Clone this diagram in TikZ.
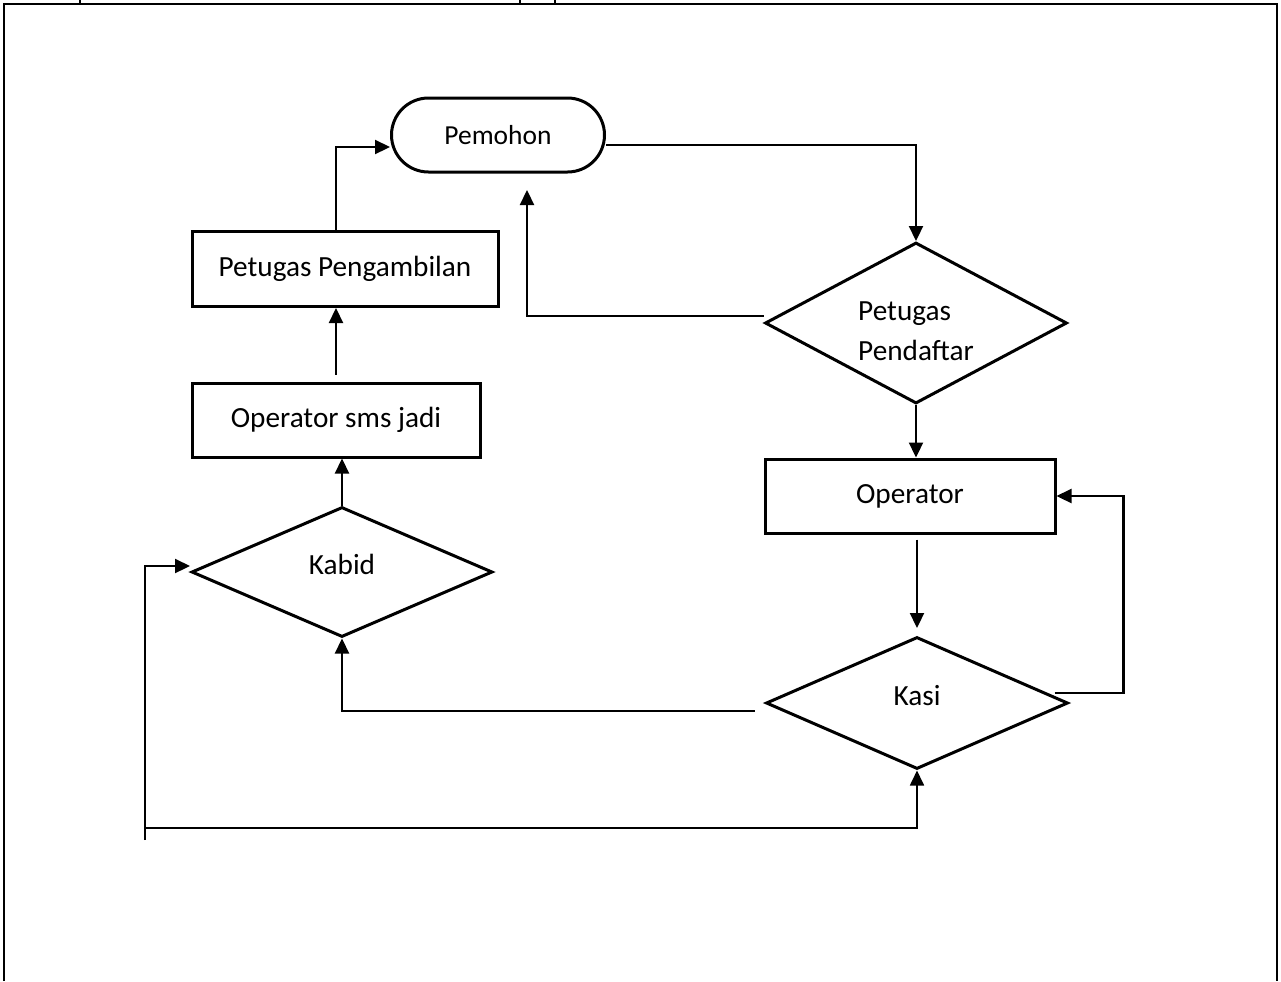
\documentclass[tikz,border=0pt]{standalone}
\usepackage{fontspec}
\setmainfont{Carlito}
\usetikzlibrary{shapes.geometric, arrows.meta}

\begin{document}
\begin{tikzpicture}[x=0.4pt, y=-0.4pt,
	box/.style={draw, line width=1.2pt, rectangle, inner sep=0pt, font=\fontsize{11.7}{16}\selectfont},
	raute/.style={draw, line width=1.2pt, diamond, aspect=1.9, inner sep=0pt, font=\fontsize{11.7}{16}\selectfont, align=left},
	pfeil/.style={line width=0.9pt, -{Triangle[length=6pt, width=5.6pt]}}]

	\def\u{0.4pt}

	\useasboundingbox (0,0) rectangle (1281,981);

	%Rahmen
	\draw [line width=1.1pt] (4,981) -- (4,4) -- (1277,4) -- (1277,981);
	\foreach \x in {80, 520, 555}
	{
		\draw [line width=0.9pt] (\x,0) -- (\x,4);
	}

	%Knoten
	\node [box, rounded corners=14.8pt, minimum width=213*\u, minimum height=74*\u, font=\fontsize{11}{13}\selectfont] (pemohon) at (498,135) {Pemohon};
	\node [raute, minimum width=302*\u, minimum height=161*\u, text height=30pt] (pendaftar) at (916,323) {Petugas\\Pendaftar};
	\node [box, minimum width=290*\u, minimum height=74*\u] (operator) at (910,496) {Operator};
	\node [raute, minimum width=302*\u, minimum height=132*\u, text depth=6.4pt] (kasi) at (917,703) {Kasi};
	\node [raute, minimum width=301*\u, minimum height=130*\u, text depth=6.4pt] (kabid) at (342,572) {Kabid};
	\node [box, minimum width=288*\u, minimum height=74*\u] (smsjadi) at (336,420) {Operator sms jadi};
	\node [box, minimum width=306*\u, minimum height=75*\u] (pengambilan) at (345,269) {Petugas Pengambilan};

	%Pfeile
	\coordinate (zurueck) at (527,190);
	\coordinate (schleife) at (145,840);

	\draw [pfeil] (smsjadi.north |- pengambilan.north) |- ([yshift=-4.8pt]pemohon.west);
	\draw [pfeil] ([yshift=-4pt]pemohon.east) -| (pendaftar.north);
	\draw [pfeil] ([yshift=2.8pt]pendaftar.west) -| (zurueck);
	\draw [pfeil] (pendaftar.south) -- (pendaftar.south |- operator.north);
	\draw [pfeil] ([yshift=-2pt]kasi.north |- operator.south) -- ([yshift=3pt]kasi.north);
	\draw [pfeil] ([shift={(-6pt,4pt)}]kasi.east) -- ++(27.6pt,0pt) |- (operator.east);
	\draw [pfeil] ([shift={(-4pt,-3.2pt)}]kasi.west) -| (kabid.south);
	\draw [pfeil] (kabid.north) -- (kabid.north |- smsjadi.south);
	\draw [pfeil] ([yshift=2.8pt]smsjadi.north) -- (smsjadi.north |- pengambilan.south);
	\draw [pfeil] (schleife) |- ([yshift=2.4pt]kabid.west);
	\draw [pfeil, line width=0.7pt] ([yshift=4.8pt]schleife) -| (kasi.south);

\end{tikzpicture}
\end{document}
